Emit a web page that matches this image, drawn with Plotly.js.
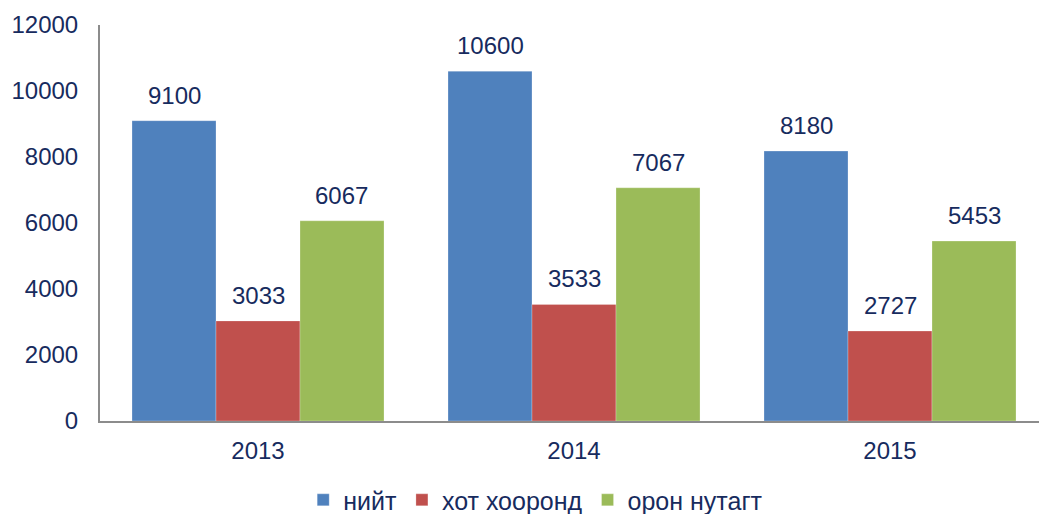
<!DOCTYPE html>
<html><head><meta charset="utf-8">
<script src="https://cdn.plot.ly/plotly-3.0.1.min.js"></script>
<style>body{margin:0;background:#fff}#c{width:1039px;height:514px}</style>
</head><body><div id="c"></div>
<script>
const years = ['2013', '2014', '2015'];
const seriesNames = ['нийт', 'хот хооронд', 'орон нутагт'];
const total = [9100, 10600, 8180];
const intercity = [3033, 3533, 2727];
const local = [6067, 7067, 5453];
const yTicks = [0, 2000, 4000, 6000, 8000, 10000, 12000];

const colors = ['#4F81BD', '#C0504D', '#9BBB59'];
const values = [total, intercity, local];
const txt = '#172B5E';
const font = {family: 'Liberation Sans, Arial, sans-serif', size: 24, color: txt};

const traces = values.map((v, i) => ({
  type: 'bar', x: years, y: v, name: seriesNames[i],
  marker: {color: colors[i], line: {width: 0.5, color: 'rgba(255,255,255,0.5)'}},
  offsetgroup: String(i), hoverinfo: 'none'
}));

// labels above bars
const annotations = [];
const offs = [-1, 0, 1];
values.forEach((v, i) => {
  v.forEach((val, j) => {
    annotations.push({
      x: j + offs[i] * 0.2658, y: val, xref: 'x', yref: 'y',
      text: String(val), showarrow: false, yanchor: 'bottom', yshift: 10,
      font: font
    });
  });
});

const layout = {
  width: 1039, height: 514,
  margin: {l: 100, r: 0, t: 25, b: 93, autoexpand: false},
  paper_bgcolor: '#fff', plot_bgcolor: '#fff',
  font: font,
  barmode: 'group', bargap: 0.2025, bargroupgap: 0,
  showlegend: true,
  legend: {orientation: 'h', x: 0.464, xanchor: 'center', yref: 'container', y: 0.027, yanchor: 'middle',
    font: {family: font.family, size: 25, color: txt}, itemwidth: 30, tracegroupgap: 0},
  xaxis: {type: 'category', range: [-0.5, 2.4715], showgrid: false, zeroline: false,
    showline: true, linecolor: '#8C8C8C', linewidth: 2, ticks: '', ticklabelstandoff: 7,
    tickfont: font, fixedrange: true, automargin: false},
  yaxis: {range: [0, 12000], tickvals: yTicks, ticktext: yTicks.map(String),
    showgrid: false, zeroline: false, showline: true, linecolor: '#8C8C8C', linewidth: 2,
    ticks: '', ticklabelstandoff: 15, tickfont: font, fixedrange: true, automargin: false},
  annotations: annotations
};

Plotly.newPlot('c', traces, layout, {displayModeBar: false, staticPlot: true});
</script></body></html>
